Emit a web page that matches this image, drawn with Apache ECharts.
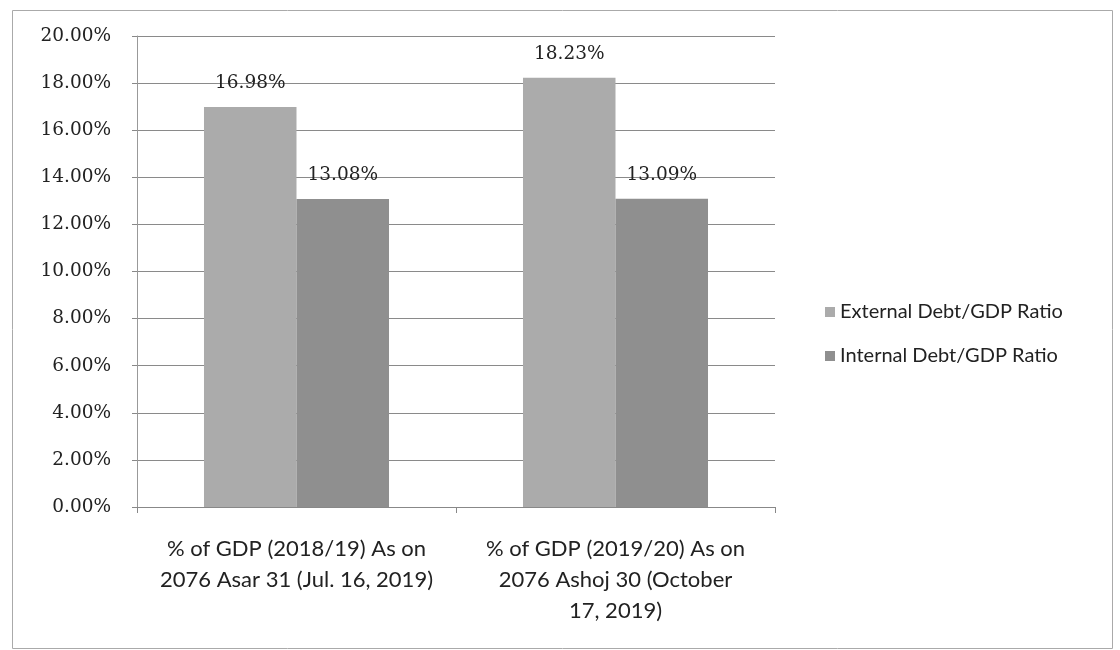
<!DOCTYPE html>
<html><head><meta charset="utf-8">
<script src="https://cdn.jsdelivr.net/npm/echarts@6/dist/echarts.min.js"></script>
<style>html,body{margin:0;padding:0;background:#fff}#c{width:1120px;height:650px}</style>
</head><body><div id="c"></div>
<script>
const categories = [
  "% of GDP (2018/19) As on\n2076 Asar 31 (Jul. 16, 2019)",
  "% of GDP (2019/20) As on\n2076 Ashoj 30 (October\n17, 2019)"
];
const seriesNames = ["External Debt/GDP Ratio", "Internal Debt/GDP Ratio"];
const externalDebt = [16.98, 18.23];
const internalDebt = [13.08, 13.09];
const yTicks = [0, 2, 4, 6, 8, 10, 12, 14, 16, 18, 20];

const chart = echarts.init(document.getElementById('c'));
const labelCfg = {
  show: true, position: 'top', distance: 14,
  formatter: p => p.value.toFixed(2) + '%',
  fontFamily: 'DejaVu Serif', fontSize: 18.5, color: '#222'
};
chart.setOption({
  backgroundColor: '#fff',
  animation: false,
  graphic: [{
    type: 'rect', left: 10, top: 8,
    shape: { width: 1100, height: 638 },
    style: { fill: 'none', stroke: '#aaa', lineWidth: 1 }
  }],
  grid: { left: 137, right: 345, top: 36, bottom: 143 },
  legend: {
    orient: 'vertical', left: 820, top: 297, itemGap: 24,
    itemWidth: 10, itemHeight: 10, icon: 'rect',
    textStyle: { fontFamily: 'Lato', fontSize: 20, color: '#222' },
    data: seriesNames
  },
  xAxis: {
    type: 'category', data: categories,
    axisLine: { lineStyle: { color: '#888' } },
    axisTick: { show: true, length: 6, lineStyle: { color: '#888' } },
    axisLabel: { fontFamily: 'Lato', fontSize: 22, color: '#222', lineHeight: 31, margin: 26, interval: 0 }
  },
  yAxis: {
    type: 'value', min: yTicks[0], max: yTicks[yTicks.length - 1], interval: 2,
    axisLine: { show: true, lineStyle: { color: '#999' } },
    axisTick: { show: true, length: 5, lineStyle: { color: '#888' } },
    splitLine: { lineStyle: { color: '#8a8a8a', width: 1 } },
    axisLabel: { formatter: v => v.toFixed(2) + '%', fontFamily: 'DejaVu Serif', fontSize: 18.5, color: '#222', margin: 26 }
  },
  series: [
    { name: seriesNames[0], type: 'bar', data: externalDebt, barGap: '0%', barCategoryGap: '42%',
      itemStyle: { color: '#ababab' }, label: labelCfg },
    { name: seriesNames[1], type: 'bar', data: internalDebt,
      itemStyle: { color: '#8f8f8f' }, label: labelCfg }
  ]
});
</script></body></html>
